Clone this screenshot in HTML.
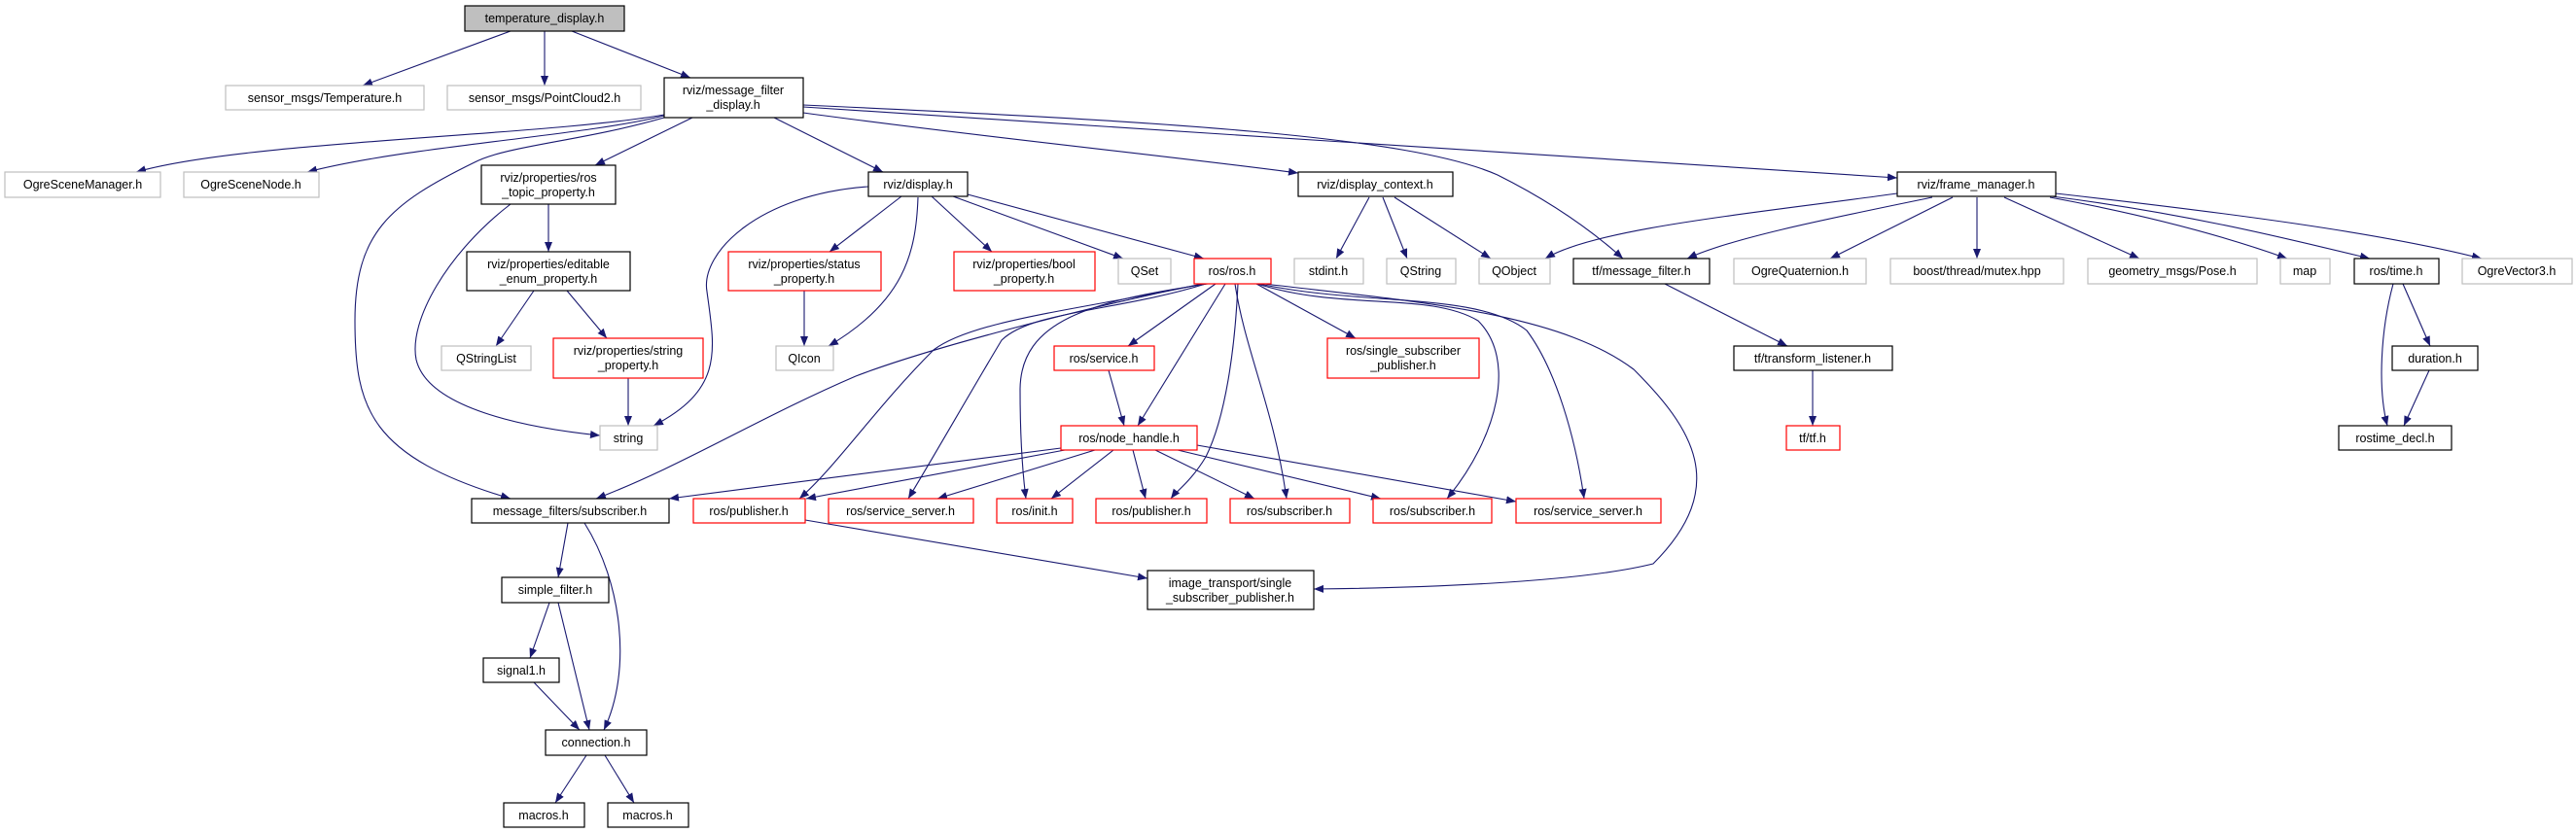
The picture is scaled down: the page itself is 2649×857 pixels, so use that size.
<!DOCTYPE html>
<html><head><meta charset="utf-8"><style>
html,body{margin:0;padding:0;background:#fff;}
svg{display:block;}
text{font-family:"Liberation Sans",sans-serif;font-size:12.5px;fill:#000;text-anchor:middle;}
.b{fill:#fff;stroke:#000;stroke-width:1.2}
.g{fill:#fff;stroke:#bfbfbf;stroke-width:1.2}
.r{fill:#fff;stroke:#ff0000;stroke-width:1.2}
.e{fill:none;stroke:#191970;stroke-width:1.1;marker-end:url(#a)}
</style></head><body>
<svg width="2649" height="857" viewBox="0 0 2649 857" xmlns="http://www.w3.org/2000/svg">
<defs><marker id="a" markerUnits="userSpaceOnUse" markerWidth="11" markerHeight="9" refX="10" refY="4" orient="auto"><path d="M0,0 L10,4 L0,8 z" fill="#191970"/></marker></defs>
<g>
<path class="e" d="M525,32 L373,88"/>
<path class="e" d="M560,32 L560,88"/>
<path class="e" d="M588,32 L710,80"/>
<path class="e" d="M683,118 C560,140 250,145 140,177"/>
<path class="e" d="M683,119 C600,140 420,150 316,177"/>
<path class="e" d="M683,121 C600,145 520,150 488,167 C400,210 365,240 365,330 C365,420 380,470 525,513"/>
<path class="e" d="M712,121 L612,170"/>
<path class="e" d="M796,121 L908,177"/>
<path class="e" d="M826,116 C1000,140 1200,160 1335,178"/>
<path class="e" d="M826,108 C1200,125 1450,140 1540,180 C1600,210 1640,240 1669,266"/>
<path class="e" d="M826,110 C1300,140 1700,165 1951,183"/>
<path class="e" d="M564,210 L564,259"/>
<path class="e" d="M525,210 C460,260 420,330 428,370 C440,420 540,440 617,448"/>
<path class="e" d="M549,299 L510,356"/>
<path class="e" d="M583,299 L624,348"/>
<path class="e" d="M646,389 L646,438"/>
<path class="e" d="M893,192 C780,200 720,260 727,300 C735,360 745,400 672,438"/>
<path class="e" d="M927,202 L853,259"/>
<path class="e" d="M944,203 C942,260 930,310 852,356"/>
<path class="e" d="M827,299 L827,356"/>
<path class="e" d="M958,202 L1020,259"/>
<path class="e" d="M980,202 L1155,266"/>
<path class="e" d="M995,200 L1238,266"/>
<path class="e" d="M1408,203 L1374,266"/>
<path class="e" d="M1422,203 L1447,266"/>
<path class="e" d="M1434,203 L1533,266"/>
<path class="e" d="M1951,199 C1800,220 1640,235 1589,266"/>
<path class="e" d="M1987,203 C1880,225 1780,245 1735,266"/>
<path class="e" d="M2008,203 L1882,266"/>
<path class="e" d="M2033,203 L2033,266"/>
<path class="e" d="M2061,203 L2200,266"/>
<path class="e" d="M2108,203 C2200,220 2280,240 2352,266"/>
<path class="e" d="M2110,202 C2250,220 2350,245 2437,266"/>
<path class="e" d="M2114,199 C2300,220 2450,240 2552,266"/>
<path class="e" d="M1712,292 L1838,356"/>
<path class="e" d="M1864,381 L1864,438"/>
<path class="e" d="M2471,292 L2499,356"/>
<path class="e" d="M2461,292 C2448,340 2445,400 2455,438"/>
<path class="e" d="M2498,381 L2472,438"/>
<path class="e" d="M1236,292 C1100,320 950,360 880,387 C780,430 700,480 613,513"/>
<path class="e" d="M1238,292 C1100,320 1000,330 960,360 C900,420 860,480 822,513"/>
<path class="e" d="M1240,292 C1150,320 1060,320 1030,350 C1000,400 960,470 934,513"/>
<path class="e" d="M1242,292 C1120,310 1050,330 1049,400 C1049,450 1052,490 1055,513"/>
<path class="e" d="M1250,292 L1160,356"/>
<path class="e" d="M1260,292 L1170,438"/>
<path class="e" d="M1273,292 C1270,360 1260,430 1240,470 C1225,495 1210,505 1204,513"/>
<path class="e" d="M1270,292 C1280,360 1310,420 1323,513"/>
<path class="e" d="M1292,292 L1394,348"/>
<path class="e" d="M1293,292 C1380,320 1470,300 1520,330 C1560,370 1540,450 1488,513"/>
<path class="e" d="M1295,292 C1400,315 1520,300 1570,340 C1600,380 1620,450 1629,513"/>
<path class="e" d="M1300,292 C1450,310 1600,320 1680,380 C1740,440 1780,500 1700,580 C1620,600 1450,605 1351,606"/>
<path class="e" d="M1140,381 L1156,438"/>
<path class="e" d="M1091,461 L688,513"/>
<path class="e" d="M1095,463 L829,513"/>
<path class="e" d="M1126,463 L964,513"/>
<path class="e" d="M1145,463 L1081,513"/>
<path class="e" d="M1165,463 L1178,513"/>
<path class="e" d="M1188,463 L1290,513"/>
<path class="e" d="M1211,463 L1420,513"/>
<path class="e" d="M1231,458 L1559,516"/>
<path class="e" d="M828,535 L1180,595"/>
<path class="e" d="M584,538 L574,594"/>
<path class="e" d="M601,538 C640,600 650,690 621,751"/>
<path class="e" d="M565,620 L545,677"/>
<path class="e" d="M574,620 L606,751"/>
<path class="e" d="M549,702 L596,751"/>
<path class="e" d="M603,777 L571,826"/>
<path class="e" d="M622,777 L652,826"/>
</g>
<g>
<rect x="478" y="6" width="164" height="26" fill="#bfbfbf" stroke="#000" stroke-width="1.2"/><text x="560" y="23">temperature_display.h</text>
<rect class="g" x="232" y="88" width="204" height="25"/><text x="334" y="105">sensor_msgs/Temperature.h</text>
<rect class="g" x="460" y="88" width="199" height="25"/><text x="560" y="105">sensor_msgs/PointCloud2.h</text>
<rect class="b" x="683" y="80" width="143" height="41"/><text x="754" y="97">rviz/message_filter</text><text x="754" y="112">_display.h</text>
<rect class="g" x="5" y="177" width="160" height="26"/><text x="85" y="194">OgreSceneManager.h</text>
<rect class="g" x="189" y="177" width="139" height="26"/><text x="258" y="194">OgreSceneNode.h</text>
<rect class="b" x="495" y="170" width="138" height="40"/><text x="564" y="187">rviz/properties/ros</text><text x="564" y="202">_topic_property.h</text>
<rect class="b" x="893" y="177" width="102" height="25"/><text x="944" y="194">rviz/display.h</text>
<rect class="b" x="1335" y="177" width="159" height="25"/><text x="1414" y="194">rviz/display_context.h</text>
<rect class="b" x="1951" y="177" width="163" height="25"/><text x="2032" y="194">rviz/frame_manager.h</text>
<rect class="b" x="480" y="259" width="168" height="40"/><text x="564" y="276">rviz/properties/editable</text><text x="564" y="291">_enum_property.h</text>
<rect class="r" x="749" y="259" width="157" height="40"/><text x="827" y="276">rviz/properties/status</text><text x="827" y="291">_property.h</text>
<rect class="r" x="981" y="259" width="145" height="40"/><text x="1053" y="276">rviz/properties/bool</text><text x="1053" y="291">_property.h</text>
<rect class="g" x="1150" y="266" width="54" height="26"/><text x="1177" y="283">QSet</text>
<rect class="r" x="1228" y="266" width="79" height="26"/><text x="1267" y="283">ros/ros.h</text>
<rect class="g" x="1331" y="266" width="71" height="26"/><text x="1366" y="283">stdint.h</text>
<rect class="g" x="1426" y="266" width="71" height="26"/><text x="1461" y="283">QString</text>
<rect class="g" x="1521" y="266" width="73" height="26"/><text x="1557" y="283">QObject</text>
<rect class="b" x="1618" y="266" width="140" height="26"/><text x="1688" y="283">tf/message_filter.h</text>
<rect class="g" x="1783" y="266" width="136" height="26"/><text x="1851" y="283">OgreQuaternion.h</text>
<rect class="g" x="1944" y="266" width="178" height="26"/><text x="2033" y="283">boost/thread/mutex.hpp</text>
<rect class="g" x="2147" y="266" width="174" height="26"/><text x="2234" y="283">geometry_msgs/Pose.h</text>
<rect class="g" x="2345" y="266" width="51" height="26"/><text x="2370" y="283">map</text>
<rect class="b" x="2421" y="266" width="87" height="26"/><text x="2464" y="283">ros/time.h</text>
<rect class="g" x="2532" y="266" width="113" height="26"/><text x="2588" y="283">OgreVector3.h</text>
<rect class="g" x="454" y="356" width="92" height="25"/><text x="500" y="373">QStringList</text>
<rect class="r" x="569" y="348" width="154" height="41"/><text x="646" y="365">rviz/properties/string</text><text x="646" y="380">_property.h</text>
<rect class="g" x="798" y="356" width="59" height="25"/><text x="827" y="373">QIcon</text>
<rect class="r" x="1084" y="356" width="103" height="25"/><text x="1135" y="373">ros/service.h</text>
<rect class="r" x="1365" y="348" width="156" height="41"/><text x="1443" y="365">ros/single_subscriber</text><text x="1443" y="380">_publisher.h</text>
<rect class="b" x="1783" y="356" width="163" height="25"/><text x="1864" y="373">tf/transform_listener.h</text>
<rect class="b" x="2460" y="356" width="88" height="25"/><text x="2504" y="373">duration.h</text>
<rect class="g" x="617" y="438" width="59" height="25"/><text x="646" y="455">string</text>
<rect class="r" x="1091" y="438" width="140" height="25"/><text x="1161" y="455">ros/node_handle.h</text>
<rect class="r" x="1837" y="438" width="55" height="25"/><text x="1864" y="455">tf/tf.h</text>
<rect class="b" x="2405" y="438" width="116" height="25"/><text x="2463" y="455">rostime_decl.h</text>
<rect class="b" x="485" y="513" width="203" height="25"/><text x="586" y="530">message_filters/subscriber.h</text>
<rect class="r" x="713" y="513" width="115" height="25"/><text x="770" y="530">ros/publisher.h</text>
<rect class="r" x="852" y="513" width="149" height="25"/><text x="926" y="530">ros/service_server.h</text>
<rect class="r" x="1025" y="513" width="78" height="25"/><text x="1064" y="530">ros/init.h</text>
<rect class="r" x="1127" y="513" width="114" height="25"/><text x="1184" y="530">ros/publisher.h</text>
<rect class="r" x="1265" y="513" width="123" height="25"/><text x="1326" y="530">ros/subscriber.h</text>
<rect class="r" x="1412" y="513" width="122" height="25"/><text x="1473" y="530">ros/subscriber.h</text>
<rect class="r" x="1559" y="513" width="149" height="25"/><text x="1633" y="530">ros/service_server.h</text>
<rect class="b" x="1180" y="587" width="171" height="40"/><text x="1265" y="604">image_transport/single</text><text x="1265" y="619">_subscriber_publisher.h</text>
<rect class="b" x="516" y="594" width="110" height="26"/><text x="571" y="611">simple_filter.h</text>
<rect class="b" x="497" y="677" width="78" height="25"/><text x="536" y="694">signal1.h</text>
<rect class="b" x="561" y="751" width="104" height="26"/><text x="613" y="768">connection.h</text>
<rect class="b" x="518" y="826" width="83" height="25"/><text x="559" y="843">macros.h</text>
<rect class="b" x="625" y="826" width="83" height="25"/><text x="666" y="843">macros.h</text>
</g>
</svg>
</body></html>
